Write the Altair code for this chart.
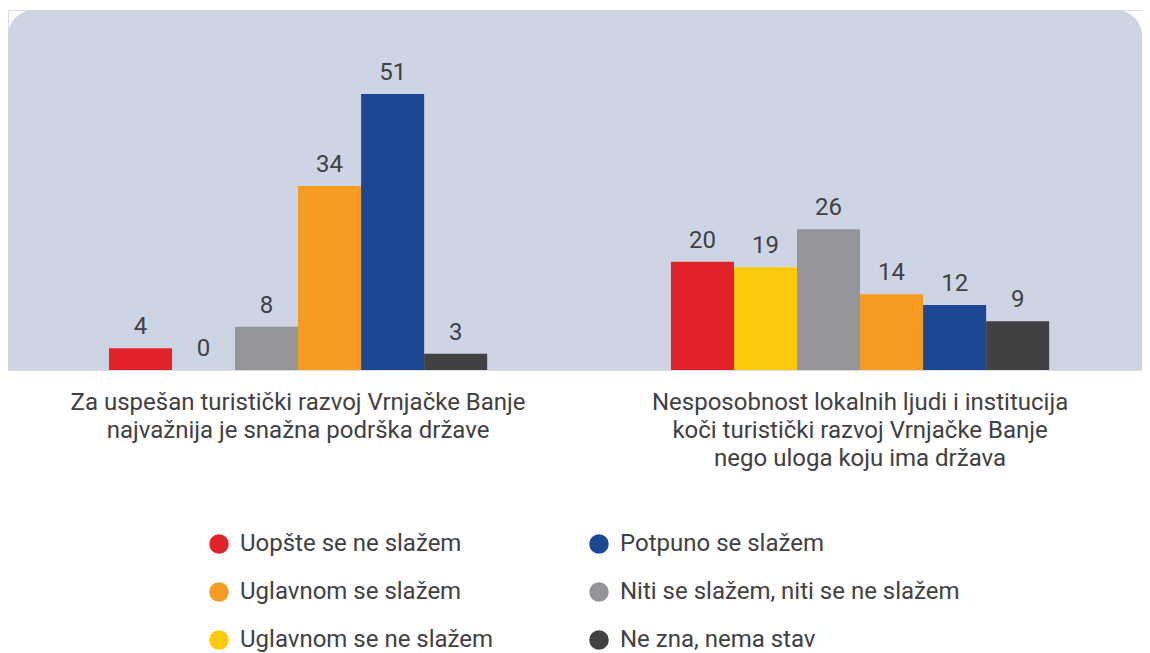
import altair as alt
import pandas as pd

groups = [
    "Za uspešan turistički razvoj Vrnjačke Banje\nnajvažnija je snažna podrška države",
    "Nesposobnost lokalnih ljudi i institucija\nkoči turistički razvoj Vrnjačke Banje\nnego uloga koju ima država",
]
series = [
    "Uopšte se ne slažem",
    "Uglavnom se ne slažem",
    "Niti se slažem, niti se ne slažem",
    "Uglavnom se slažem",
    "Potpuno se slažem",
    "Ne zna, nema stav",
]
values_g1 = [4, 0, 8, 34, 51, 3]
values_g2 = [20, 19, 26, 14, 12, 9]
legend_order = [
    "Uopšte se ne slažem",
    "Potpuno se slažem",
    "Uglavnom se slažem",
    "Niti se slažem, niti se ne slažem",
    "Uglavnom se ne slažem",
    "Ne zna, nema stav",
]
legend_colors = ["#E3232C", "#1C4893", "#F69A21", "#939598", "#FDCB0B", "#414042"]

rows = []
for g, vals in zip(groups, [values_g1, values_g2]):
    for s, v in zip(series, vals):
        rows.append({"group": g, "series": s, "value": v})
df = pd.DataFrame(rows)

W, H = 1134, 360
FONT = "Roboto"
TXT = "#414042"

panel = alt.Chart(pd.DataFrame({"a": [0]})).mark_rect(
    color="#CDD5E5", cornerRadiusTopLeft=26, cornerRadiusTopRight=26
).encode(x=alt.value(0), x2=alt.value(W), y=alt.value(0), y2=alt.value(H))

xenc = alt.X(
    "group:N",
    sort=groups,
    scale=alt.Scale(paddingInner=0.327, paddingOuter=0.1724, align=0.521),
    axis=alt.Axis(
        title=None, labelAngle=0, domain=False, ticks=False,
        labelExpr="split(datum.value, '\\n')",
        labelFont=FONT, labelFontSize=24, labelColor=TXT,
        labelPadding=20, labelLineHeight=28, labelLimit=0,
    ),
)
yenc = alt.Y("value:Q", scale=alt.Scale(domain=[0, 66.5], nice=False), axis=None)
xoff = alt.XOffset("series:N", sort=series, scale=alt.Scale(paddingInner=0, paddingOuter=0))

bars = alt.Chart(df).mark_bar().encode(
    x=xenc, y=yenc, xOffset=xoff,
    color=alt.Color(
        "series:N",
        scale=alt.Scale(domain=legend_order, range=legend_colors),
        legend=alt.Legend(
            title=None, orient="none", legendX=199, legendY=522, columns=2,
            direction="horizontal",
            symbolType="circle", symbolSize=380, symbolStrokeWidth=0,
            labelFont=FONT, labelFontSize=24, labelColor=TXT, labelOffset=9,
            labelLimit=0, columnPadding=93, rowPadding=24,
        ),
    ),
)

labels = alt.Chart(df).mark_text(
    baseline="bottom", dy=-9, font=FONT, fontSize=24, color=TXT
).encode(x=xenc, y=yenc, xOffset=xoff, text="value:Q")

chart = alt.layer(panel, bars, labels).properties(
    width=W, height=H,
    padding={"left": 0, "top": 2, "right": 0, "bottom": 0},
).configure_view(stroke=None).configure(background="white")

chart.save("out.html", embed_options={"renderer": "svg", "actions": False})
